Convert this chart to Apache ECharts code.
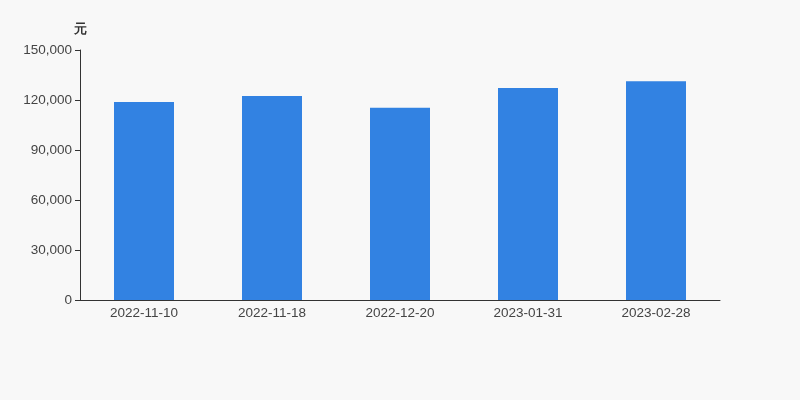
<!DOCTYPE html>
<html><head><meta charset="utf-8">
<script src="https://cdn.jsdelivr.net/npm/echarts@6/dist/echarts.min.js"></script>
<style>html,body{margin:0;padding:0;background:#f8f8f8;}#c{width:800px;height:400px;}</style>
</head><body><div id="c"></div>
<script>
const categories = ['2022-11-10','2022-11-18','2022-12-20','2023-01-31','2023-02-28'];
const values = [118800, 122400, 115300, 127200, 131300];
const chart = echarts.init(document.getElementById('c'));
chart.setOption({
  backgroundColor: '#f8f8f8',
  animation: false,
  grid: {left: 80, right: 80, top: 50, bottom: 100},
  xAxis: {
    type: 'category', data: categories,
    axisLine: {lineStyle: {color: '#333'}},
    axisTick: {lineStyle: {color: '#333'}},
    axisLabel: {color: '#444', fontSize: 13.5, margin: 6, fontFamily: 'Arial, Liberation Sans, sans-serif'}
  },
  yAxis: {
    type: 'value', min: 0, max: 150000, interval: 30000,
    name: '元', nameGap: 14,
    nameTextStyle: {color: '#333', fontSize: 13, fontWeight: 'bold', align: 'center'},
    axisLine: {show: true, lineStyle: {color: '#333'}},
    axisTick: {show: true, lineStyle: {color: '#333'}},
    splitLine: {show: false},
    axisLabel: {color: '#444', fontSize: 13.5, margin: 8, fontFamily: 'Arial, Liberation Sans, sans-serif',
      formatter: v => v.toLocaleString('en-US')}
  },
  series: [{type: 'bar', data: values, barWidth: 60, itemStyle: {color: '#3282e2'}}]
});
</script></body></html>
